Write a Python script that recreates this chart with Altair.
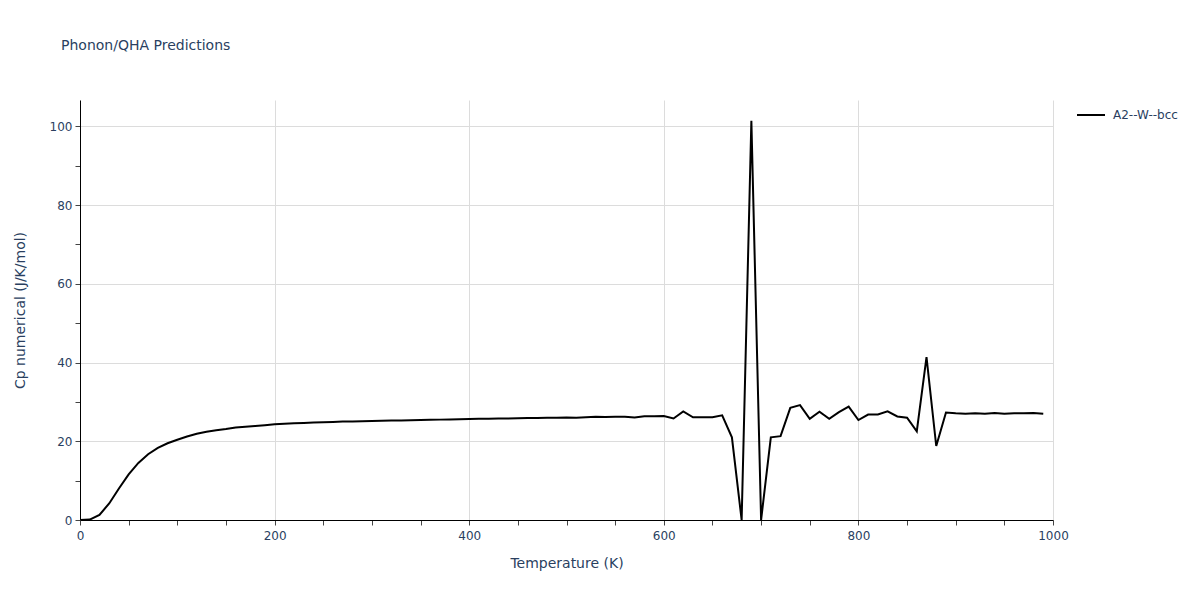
import altair as alt
import pandas as pd

temperature = [0, 10, 20, 30, 40, 50, 60, 70, 80, 90,
               100, 110, 120, 130, 140, 150, 160, 170, 180, 190,
               200, 210, 220, 230, 240, 250, 260, 270, 280, 290,
               300, 310, 320, 330, 340, 350, 360, 370, 380, 390,
               400, 410, 420, 430, 440, 450, 460, 470, 480, 490,
               500, 510, 520, 530, 540, 550, 560, 570, 580, 590,
               600, 610, 620, 630, 640, 650, 660, 670, 680, 690,
               700, 710, 720, 730, 740, 750, 760, 770, 780, 790,
               800, 810, 820, 830, 840, 850, 860, 870, 880, 890,
               900, 910, 920, 930, 940, 950, 960, 970, 980, 990]

cp = [0.0, 0.1, 1.3, 4.2, 8.0, 11.6, 14.5, 16.7, 18.3, 19.5,
      20.4, 21.2, 21.9, 22.4, 22.8, 23.1, 23.5, 23.7, 23.9, 24.1,
      24.3, 24.45, 24.55, 24.65, 24.75, 24.85, 24.9, 25.0, 25.05, 25.1,
      25.15, 25.2, 25.25, 25.3, 25.35, 25.4, 25.45, 25.5, 25.55, 25.6,
      25.65, 25.7, 25.75, 25.8, 25.8, 25.85, 25.9, 25.9, 25.95, 26.0,
      26.05, 26.0, 26.1, 26.2, 26.15, 26.2, 26.25, 26.05, 26.35, 26.35,
      26.4, 25.8, 27.6, 26.1, 26.1, 26.1, 26.6, 21.0, 0.0, 101.4,
      0.0, 21.0, 21.3, 28.5, 29.2, 25.7, 27.5, 25.7, 27.4, 28.8,
      25.4, 26.8, 26.8, 27.6, 26.3, 26.0, 22.5, 41.4, 18.8, 27.3,
      27.1, 27.0, 27.1, 27.0, 27.2, 27.0, 27.1, 27.1, 27.2, 27.0]

series_name = "A2--W--bcc"

x_ticks = [0, 50, 100, 150, 200, 250, 300, 350, 400, 450, 500,
           550, 600, 650, 700, 750, 800, 850, 900, 950, 1000]
y_ticks = [0, 10, 20, 30, 40, 50, 60, 70, 80, 90, 100]

df = pd.DataFrame({"T": temperature, "Cp": cp, "series": [series_name] * len(temperature)})

FONT = "DejaVu Sans"
TXT = "#2a3f5f"
GRID = "#dcdcdc"

x_axis = alt.Axis(
    values=x_ticks,
    format="d",
    labelExpr="datum.value % 200 == 0 ? datum.label : ''",
    gridColor=alt.condition("datum.value % 200 == 0", alt.value(GRID), alt.value("transparent")),
    tickColor="#444",
    tickSize=5,
    domainColor="#000",
    domainWidth=1,
    labelFont=FONT, labelFontSize=12, labelColor=TXT, labelPadding=5,
    titleFont=FONT, titleFontSize=14, titleColor=TXT, titleFontWeight="normal",
    titlePadding=15, labelFlush=False,
)
y_axis = alt.Axis(
    values=y_ticks,
    format="d",
    labelExpr="datum.value % 20 == 0 ? datum.label : ''",
    gridColor=alt.condition("datum.value % 20 == 0", alt.value(GRID), alt.value("transparent")),
    tickColor="#444",
    tickSize=5,
    domainColor="#000",
    domainWidth=1,
    labelFont=FONT, labelFontSize=12, labelColor=TXT, labelPadding=3,
    titleFont=FONT, titleFontSize=14, titleColor=TXT, titleFontWeight="normal",
    titlePadding=22, labelFlush=False,
)

chart = alt.Chart(df).mark_line(strokeWidth=2, clip=True).encode(
    x=alt.X("T:Q", title="Temperature (K)", scale=alt.Scale(domain=[0, 1000], nice=False, zero=False), axis=x_axis),
    y=alt.Y("Cp:Q", title="Cp numerical (J/K/mol)", scale=alt.Scale(domain=[0, 106.7], nice=False), axis=y_axis),
    color=alt.Color("series:N", scale=alt.Scale(range=["black"]),
                    legend=alt.Legend(title=None, orient="none", legendX=996, legendY=0,
                                      symbolType="stroke", symbolSize=784, symbolStrokeWidth=2,
                                      labelFont=FONT, labelFontSize=12, labelColor=TXT, labelOffset=7)),
).properties(
    width=973, height=420,
    title=alt.TitleParams("Phonon/QHA Predictions", anchor="start", frame="group", dx=-19,
                          fontSize=14, font=FONT, color=TXT, fontWeight="normal", offset=47),
    autosize=alt.AutoSizeParams(type="none"),
    padding={"left": 72, "top": 92, "right": 130, "bottom": 72},
).configure_view(stroke=None)

chart.save("out.html", embed_options={"renderer": "svg", "actions": False})
